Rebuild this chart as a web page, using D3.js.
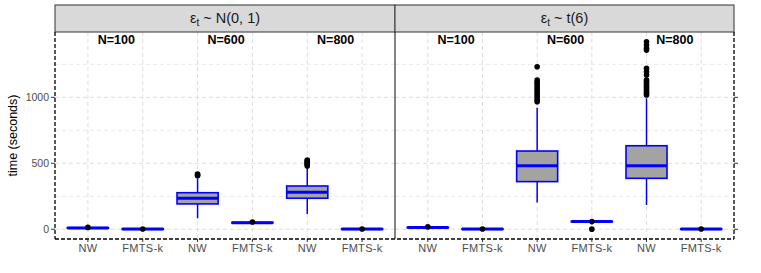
<!DOCTYPE html>
<html>
<head>
<meta charset="utf-8">
<script src="https://cdn.jsdelivr.net/npm/d3@7"></script>
<style>
  body { margin: 0; background: #fff; }
  text { font-family: "Liberation Sans", Arial, sans-serif; }
</style>
</head>
<body>
<svg id="chart" width="761" height="273"></svg>
<script>
// categories
var panels = ["N(0, 1)", "t(6)"];
var methods = ["NW", "FMTS-k", "NW", "FMTS-k", "NW", "FMTS-k"];
var groups = ["N=100", "N=600", "N=800"];
var yTicks = [0, 500, 1000];

// box stats per panel: [lower whisker, q1, median, q3, upper whisker]
var boxNormal = [
  [5, 8, 10, 12, 15],
  [0, 1, 2, 3, 4],
  [83, 192, 235, 277, 386],
  [44, 48, 50, 52, 56],
  [116, 235, 280, 328, 474],
  [0, 1, 2, 3, 4]
];
var boxT6 = [
  [8, 11, 13, 15, 18],
  [0, 1, 2, 3, 4],
  [202, 361, 482, 593, 921],
  [52, 56, 58, 60, 64],
  [184, 386, 482, 633, 992],
  [0, 1, 2, 3, 4]
];

// outliers per box
var outNormal = [
  [14],
  [2],
  [405, 412, 418],
  [55],
  [480, 488, 495, 503, 510, 518, 525],
  [2]
];
var outT6 = [
  [18],
  [2],
  [967, 980, 995, 1010, 1025, 1040, 1055, 1070, 1085, 1100, 1115, 1131, 1232],
  [58, 1],
  [1017, 1030, 1045, 1060, 1075, 1090, 1105, 1120, 1131, 1169, 1194, 1220, 1358, 1371, 1396, 1421],
  [2]
];

var svg = d3.select("#chart");

var pTop = 32, pBottom = 239;
var panelX = [[55, 395], [395, 734]];

var y = d3.scaleLinear().domain([-70, 1495]).range([238.5, 32]);

// y axis title
svg.append("text")
  .attr("transform", "translate(17," + ((pTop + pBottom) / 2) + ") rotate(-90)")
  .attr("text-anchor", "middle")
  .attr("font-size", "12.5px")
  .attr("fill", "#000")
  .text("time (seconds)");

// y tick labels
svg.selectAll(".ylab")
  .data(yTicks).enter()
  .append("text")
  .attr("x", 49)
  .attr("y", function(d) { return y(d); })
  .attr("dy", "0.35em")
  .attr("text-anchor", "end")
  .attr("font-size", "10.5px")
  .attr("fill", "#4d4d4d")
  .text(function(d) { return d; });

svg.selectAll(".ytick")
  .data(yTicks).enter()
  .append("line")
  .attr("x1", 51).attr("x2", 55)
  .attr("y1", function(d) { return y(d); })
  .attr("y2", function(d) { return y(d); })
  .attr("stroke", "#333").attr("stroke-width", 1);

svg.selectAll(".ytickr")
  .data(yTicks).enter()
  .append("line")
  .attr("x1", 734).attr("x2", 738)
  .attr("y1", function(d) { return y(d); })
  .attr("y2", function(d) { return y(d); })
  .attr("stroke", "#333").attr("stroke-width", 1);

var allBoxes = [boxNormal, boxT6];
var allOut = [outNormal, outT6];

panels.forEach(function(title, p) {
  var x0 = panelX[p][0], x1 = panelX[p][1];
  var x = d3.scaleLinear().domain([0.4, 6.6]).range([x0, x1]);
  var g = svg.append("g");

  // grid
  var hGrid = d3.range(0, 1500, 250);
  g.selectAll(".hg")
    .data(hGrid).enter()
    .append("line")
    .attr("x1", x0).attr("x2", x1)
    .attr("y1", function(d) { return y(d); })
    .attr("y2", function(d) { return y(d); })
    .attr("stroke", "#dedede")
    .attr("stroke-width", function(d) { return d % 500 === 0 ? 1 : 0.7; })
    .attr("stroke-dasharray", "4,3");

  g.selectAll(".vg")
    .data(d3.range(1, 7)).enter()
    .append("line")
    .attr("x1", function(d) { return x(d); })
    .attr("x2", function(d) { return x(d); })
    .attr("y1", pTop).attr("y2", pBottom)
    .attr("stroke", "#dedede")
    .attr("stroke-dasharray", "4,3");

  // strip
  g.append("rect")
    .attr("x", x0).attr("y", 5)
    .attr("width", x1 - x0).attr("height", pTop - 5)
    .attr("fill", "#d9d9d9")
    .attr("stroke", "#333").attr("stroke-width", 1);

  var st = g.append("text")
    .attr("x", (x0 + x1) / 2)
    .attr("y", 23)
    .attr("text-anchor", "middle")
    .attr("font-size", "14.5px")
    .attr("fill", "#1a1a1a");
  st.append("tspan").text("\u03b5");
  st.append("tspan").attr("font-size", "10px").attr("dy", 3).text("t");
  st.append("tspan").attr("dy", -3).text(" ~ " + title);

  // group labels
  g.selectAll(".grp")
    .data(groups).enter()
    .append("text")
    .attr("x", function(d, i) { return x(i * 2 + 1.5) + 1; })
    .attr("y", y(1440))
    .attr("dy", "0.35em")
    .attr("text-anchor", "middle")
    .attr("font-size", "12.5px")
    .attr("font-weight", "bold")
    .attr("fill", "#000")
    .text(function(d) { return d; });

  var boxes = allBoxes[p];
  var bw = (x(1.75) - x(1)) ;

  // whiskers
  g.selectAll(".wh")
    .data(boxes).enter()
    .append("line")
    .attr("x1", function(d, i) { return x(i + 1); })
    .attr("x2", function(d, i) { return x(i + 1); })
    .attr("y1", function(d) { return y(d[0]); })
    .attr("y2", function(d) { return y(d[4]); })
    .attr("stroke", "#0000ff").attr("stroke-width", 1.5);

  g.selectAll(".bx")
    .data(boxes).enter()
    .append("rect")
    .attr("x", function(d, i) { return x(i + 1) - bw / 2; })
    .attr("y", function(d) { return y(d[3]); })
    .attr("width", bw)
    .attr("height", function(d) { return Math.max(y(d[1]) - y(d[3]), 0.5); })
    .attr("fill", "#a3a3a3")
    .attr("stroke", "#0000ff").attr("stroke-width", 1.6);

  g.selectAll(".md")
    .data(boxes).enter()
    .append("line")
    .attr("x1", function(d, i) { return x(i + 1) - bw / 2; })
    .attr("x2", function(d, i) { return x(i + 1) + bw / 2; })
    .attr("y1", function(d) { return y(d[2]); })
    .attr("y2", function(d) { return y(d[2]); })
    .attr("stroke", "#0000ff").attr("stroke-width", 3);

  // outliers
  var pts = [];
  allOut[p].forEach(function(arr, i) {
    arr.forEach(function(v) { pts.push({ i: i, v: v }); });
  });
  g.selectAll(".out")
    .data(pts).enter()
    .append("circle")
    .attr("cx", function(d) { return x(d.i + 1); })
    .attr("cy", function(d) { return y(d.v); })
    .attr("r", 2.8)
    .attr("fill", "#000");

  // x ticks + labels
  g.selectAll(".xt")
    .data(methods).enter()
    .append("line")
    .attr("x1", function(d, i) { return x(i + 1); })
    .attr("x2", function(d, i) { return x(i + 1); })
    .attr("y1", pBottom).attr("y2", pBottom + 3)
    .attr("stroke", "#333");

  g.selectAll(".xl")
    .data(methods).enter()
    .append("text")
    .attr("x", function(d, i) { return x(i + 1); })
    .attr("y", pBottom + 13)
    .attr("text-anchor", "middle")
    .attr("font-size", "11px")
    .attr("letter-spacing", "0.3px")
    .attr("fill", "#4d4d4d")
    .text(function(d) { return d; });
});

// panel borders
svg.append("line")
  .attr("x1", 395).attr("x2", 395).attr("y1", pTop).attr("y2", pBottom)
  .attr("stroke", "#333").attr("stroke-width", 1.2);
svg.append("line")
  .attr("x1", 55).attr("x2", 55).attr("y1", pTop).attr("y2", pBottom)
  .attr("stroke", "#000").attr("stroke-width", 1.3).attr("stroke-dasharray", "4,2");
svg.append("line")
  .attr("x1", 734).attr("x2", 734).attr("y1", pTop).attr("y2", pBottom)
  .attr("stroke", "#000").attr("stroke-width", 1.3).attr("stroke-dasharray", "4,2");
svg.append("line")
  .attr("x1", 55).attr("x2", 734).attr("y1", pBottom).attr("y2", pBottom)
  .attr("stroke", "#000").attr("stroke-width", 1.3).attr("stroke-dasharray", "4,2");
</script>
</body>
</html>
